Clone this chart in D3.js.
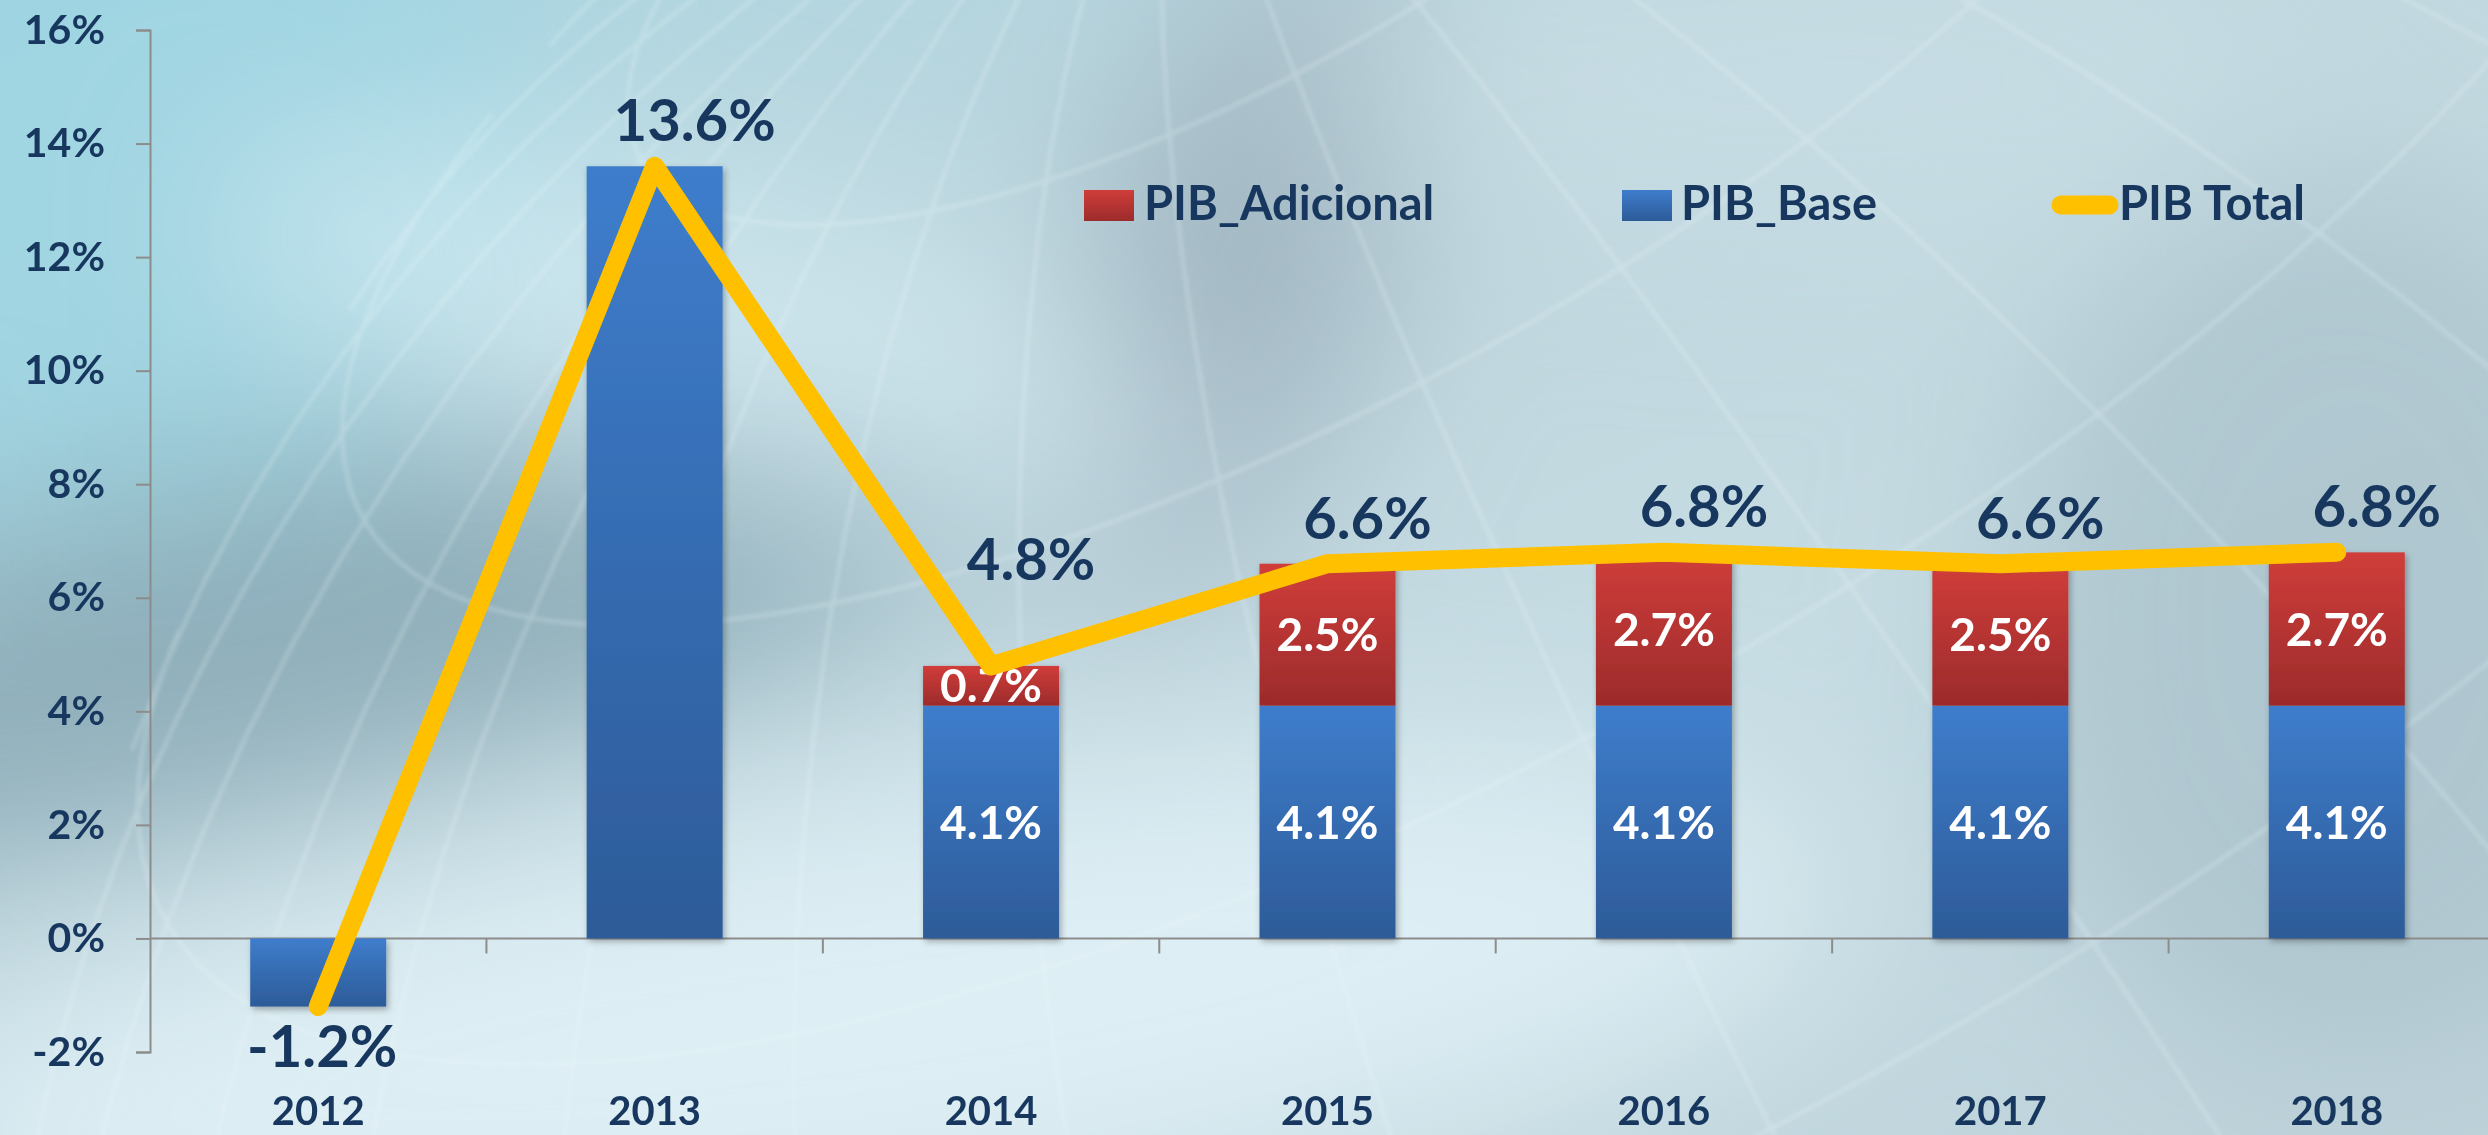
<!DOCTYPE html>
<html>
<head>
<meta charset="utf-8">
<script src="https://cdn.jsdelivr.net/npm/d3@7"></script>
<style>
  html, body { margin: 0; padding: 0; overflow: hidden; }
  svg { display: block; font-family: Lato, "Open Sans", sans-serif; font-weight: 700; }
</style>
</head>
<body>
<script>
// chart data
var years = ['2012', '2013', '2014', '2015', '2016', '2017', '2018'];
var pibBase = [-1.2, 13.6, 4.1, 4.1, 4.1, 4.1, 4.1];
var pibAdicional = [0, 0, 0.7, 2.5, 2.7, 2.5, 2.7];
var pibTotal = [-1.2, 13.6, 4.8, 6.6, 6.8, 6.6, 6.8];
var yTicks = [-2, 0, 2, 4, 6, 8, 10, 12, 14, 16];
var seriesNames = ['PIB_Adicional', 'PIB_Base', 'PIB Total'];

var width = 2488, height = 1135;
var navy = '#17375E';

var svg = d3.select('body').append('svg')
  .attr('width', width)
  .attr('height', height);

var defs = svg.append('defs');

// gradients
function vGrad(id, top, bottom) {
  var g = defs.append('linearGradient').attr('id', id)
    .attr('x1', 0).attr('y1', 0).attr('x2', 0).attr('y2', 1);
  g.append('stop').attr('offset', '0%').attr('stop-color', top);
  g.append('stop').attr('offset', '100%').attr('stop-color', bottom);
}
vGrad('blueGrad', '#3E7DCC', '#2D5B98');
vGrad('redGrad', '#D03D3A', '#9C2B2B');

var bg = defs.append('linearGradient').attr('id', 'bgGrad')
  .attr('x1', 0).attr('y1', 0).attr('x2', 1).attr('y2', 1);
bg.append('stop').attr('offset', '0%').attr('stop-color', '#ABD6E1');
bg.append('stop').attr('offset', '35%').attr('stop-color', '#BFD6DE');
bg.append('stop').attr('offset', '65%').attr('stop-color', '#C6DCE3');
bg.append('stop').attr('offset', '100%').attr('stop-color', '#BFD3DB');

defs.append('filter').attr('id', 'blurBig')
  .attr('x', '-50%').attr('y', '-50%').attr('width', '200%').attr('height', '200%')
  .append('feGaussianBlur').attr('stdDeviation', 90);
defs.append('filter').attr('id', 'blurLine')
  .append('feGaussianBlur').attr('stdDeviation', 2);
defs.append('filter').attr('id', 'barShadow')
  .attr('x', '-20%').attr('y', '-20%').attr('width', '140%').attr('height', '140%')
  .append('feDropShadow').attr('dx', 2).attr('dy', 3).attr('stdDeviation', 3)
  .attr('flood-color', '#000').attr('flood-opacity', 0.3);

// background photo-ish layers
svg.append('rect').attr('width', width).attr('height', height).attr('fill', 'url(#bgGrad)');
var blobs = svg.append('g').attr('filter', 'url(#blurBig)');
blobs.append('ellipse').attr('cx', 60).attr('cy', 150).attr('rx', 500).attr('ry', 380)
  .attr('fill', '#9CD4E2').attr('opacity', 0.8);
blobs.append('ellipse').attr('cx', 250).attr('cy', 640).attr('rx', 800).attr('ry', 170)
  .attr('transform', 'rotate(-12 250 640)').attr('fill', '#85A5B2').attr('opacity', 0.8);
blobs.append('ellipse').attr('cx', 1240).attr('cy', 260).attr('rx', 140).attr('ry', 380)
  .attr('transform', 'rotate(20 1240 260)').attr('fill', '#98AEBA').attr('opacity', 0.8);
blobs.append('ellipse').attr('cx', 850).attr('cy', 1020).attr('rx', 1000).attr('ry', 220)
  .attr('transform', 'rotate(-8 850 1020)').attr('fill', '#E0F1F6').attr('opacity', 0.9);
blobs.append('ellipse').attr('cx', 700).attr('cy', 330).attr('rx', 500).attr('ry', 140)
  .attr('transform', 'rotate(15 700 330)').attr('fill', '#D6EDF3').attr('opacity', 0.7);
blobs.append('ellipse').attr('cx', 2350).attr('cy', 620).attr('rx', 350).attr('ry', 450)
  .attr('fill', '#A6BFC9').attr('opacity', 0.7);
blobs.append('ellipse').attr('cx', 1800).attr('cy', 80).attr('rx', 500).attr('ry', 150)
  .attr('fill', '#C9DEE5').attr('opacity', 0.7);

// wire globe texture, kept faint, pole pushed out of frame
var globe = d3.geoOrthographic()
  .scale(2200)
  .translate([2200, 1500])
  .rotate([30, -22, 30])
  .clipAngle(90);
svg.append('path')
  .datum(d3.geoGraticule().step([12, 12])())
  .attr('d', d3.geoPath(globe))
  .attr('fill', 'none')
  .attr('stroke', '#F2FBFD')
  .attr('stroke-width', 4)
  .attr('opacity', 0.25)
  .attr('filter', 'url(#blurLine)');

// scales
var x = d3.scaleBand().domain(years).range([150, 2505]);
var barW = 136;
var y = d3.scaleLinear().domain([-2, 16]).range([1052, 30]);

// axes
var yAxis = svg.append('g')
  .attr('transform', 'translate(150,0)')
  .call(d3.axisLeft(y).tickValues(yTicks).tickSize(14).tickPadding(31)
    .tickFormat(function(d) { return d + '%'; }));
yAxis.select('.domain').attr('stroke', '#8C8C8C').attr('stroke-width', 2);
yAxis.selectAll('.tick line').attr('stroke', '#8C8C8C').attr('stroke-width', 2);
yAxis.selectAll('.tick text')
  .attr('fill', navy).attr('font-size', 41).attr('font-family', 'Lato').attr('font-weight', 700);

var xAxis = svg.append('g').attr('transform', 'translate(0,' + y(0) + ')');
xAxis.append('line').attr('x1', 150).attr('x2', width)
  .attr('stroke', '#8C8C8C').attr('stroke-width', 2);
xAxis.selectAll('.xtick').data(years.slice(1)).enter().append('line')
  .attr('x1', function(d) { return x(d); }).attr('x2', function(d) { return x(d); })
  .attr('y1', 0).attr('y2', 15)
  .attr('stroke', '#8C8C8C').attr('stroke-width', 2);

svg.append('g').selectAll('text').data(years).enter().append('text')
  .attr('x', function(d) { return x(d) + x.bandwidth() / 2; })
  .attr('y', 1125)
  .attr('text-anchor', 'middle')
  .attr('fill', navy)
  .attr('font-size', 40)
  .text(function(d) { return d; });

// stacked bars
var rows = years.map(function(yr, i) {
  return { year: yr, base: pibBase[i], add: pibAdicional[i] };
});
var stack = d3.stack().keys(['base', 'add']).offset(d3.stackOffsetDiverging);
var layers = stack(rows);
var fills = { base: 'url(#blueGrad)', add: 'url(#redGrad)' };

var bars = svg.append('g').attr('filter', 'url(#barShadow)');
layers.forEach(function(layer) {
  bars.selectAll('.bar-' + layer.key)
    .data(layer.filter(function(d) { return d[1] !== d[0]; }))
    .enter().append('rect')
    .attr('x', function(d) { return x(d.data.year) + (x.bandwidth() - barW) / 2; })
    .attr('width', barW)
    .attr('y', function(d) { return y(Math.max(d[0], d[1])); })
    .attr('height', function(d) { return Math.abs(y(d[0]) - y(d[1])); })
    .attr('fill', fills[layer.key]);
});

// segment labels (only where the bar is split)
layers.forEach(function(layer) {
  svg.append('g').selectAll('text')
    .data(layer.filter(function(d) { return d.data.add > 0; }))
    .enter().append('text')
    .attr('x', function(d) { return x(d.data.year) + x.bandwidth() / 2; })
    .attr('y', function(d) { return (y(d[0]) + y(d[1])) / 2; })
    .attr('dy', '0.36em')
    .attr('text-anchor', 'middle')
    .attr('fill', '#fff')
    .attr('font-size', 46)
    .text(function(d) { return (d[1] - d[0]).toFixed(1) + '%'; });
});

// total line
var cx = function(i) { return x(years[i]) + x.bandwidth() / 2; };
var line = d3.line()
  .x(function(d, i) { return cx(i); })
  .y(function(d) { return y(d); });
svg.append('path')
  .datum(pibTotal)
  .attr('d', line)
  .attr('fill', 'none')
  .attr('stroke', '#FFC000')
  .attr('stroke-width', 19)
  .attr('stroke-linejoin', 'round')
  .attr('stroke-linecap', 'round');

// total labels: above the point, lifted clear of a steep incoming segment
svg.append('g').selectAll('text').data(pibTotal).enter().append('text')
  .attr('x', function(d, i) { return cx(i) + (d < 0 ? 4 : 40); })
  .attr('y', function(d, i) {
    if (d < 0) return y(d) + 60;
    var steepDrop = i > 0 && pibTotal[i - 1] - d > 3;
    return y(d) - (steepDrop ? 86 : 25);
  })
  .attr('text-anchor', 'middle')
  .attr('fill', navy)
  .attr('font-size', 58)
  .text(function(d) { return d.toFixed(1) + '%'; });

// legend
var legend = svg.append('g');
var legendX = [1084, 1622, 2052];
legend.append('rect').attr('x', legendX[0]).attr('y', 190).attr('width', 50).attr('height', 31)
  .attr('fill', 'url(#redGrad)');
legend.append('rect').attr('x', legendX[1]).attr('y', 190).attr('width', 50).attr('height', 31)
  .attr('fill', 'url(#blueGrad)');
legend.append('line').attr('x1', legendX[2] + 9).attr('x2', legendX[2] + 57)
  .attr('y1', 205).attr('y2', 205)
  .attr('stroke', '#FFC000').attr('stroke-width', 19).attr('stroke-linecap', 'round');
legend.selectAll('text').data(seriesNames).enter().append('text')
  .attr('x', function(d, i) { return legendX[i] + [60, 59, 67][i]; })
  .attr('y', 220)
  .attr('fill', navy)
  .attr('font-size', 47)
  .text(function(d) { return d; });
</script>
</body>
</html>
